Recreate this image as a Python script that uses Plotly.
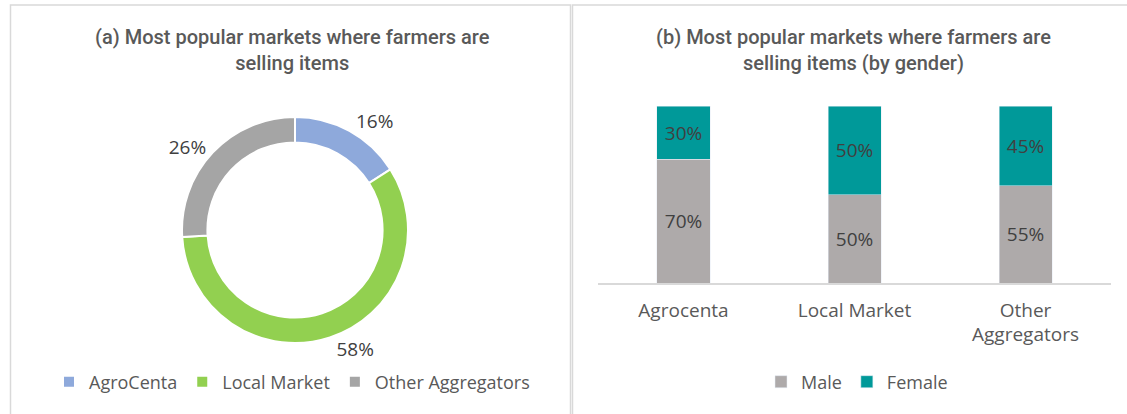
import plotly.graph_objects as go

# Panel (a) data
market_labels = ["AgroCenta", "Local Market", "Other Aggregators"]
market_share = [16, 58, 26]
market_colors = ["#8EA9DB", "#92D050", "#A5A5A5"]

# Panel (b) data
categories = ["Agrocenta", "Local Market", "Other<br>Aggregators"]
male = [70, 50, 55]
female = [30, 50, 45]

W, H = 1127, 414
LABEL_FONT = "Open Sans"
TITLE_FONT = "Roboto"
TXT = "#404040"

fig = go.Figure()

# donut
cx, cy, r = 295, 230, 113
fig.add_trace(go.Pie(
    labels=market_labels, values=market_share,
    marker=dict(colors=market_colors, line=dict(color="white", width=2)),
    hole=0.775, sort=False, direction="clockwise", rotation=0,
    textposition="outside", texttemplate="%{value}%",
    textfont=dict(family=LABEL_FONT, size=19, color=TXT),
    domain=dict(x=[(cx - r) / W, (cx + r) / W],
                y=[(H - cy - r) / H, (H - cy + r) / H]),
    legend="legend", showlegend=True, hoverinfo="label+percent",
))

# stacked bars
fig.add_trace(go.Bar(
    x=categories, y=[v / 100 for v in male], name="Male",
    marker=dict(color="#AEAAAA"), text=[f"{v}%" for v in male],
    textposition="inside", insidetextanchor="middle",
    textfont=dict(family=LABEL_FONT, size=19, color=TXT),
    xaxis="x", yaxis="y", legend="legend2",
))
fig.add_trace(go.Bar(
    x=categories, y=[v / 100 for v in female], name="Female",
    marker=dict(color="#009999"), text=[f"{v}%" for v in female],
    textposition="inside", insidetextanchor="middle",
    textfont=dict(family=LABEL_FONT, size=19, color=TXT),
    xaxis="x", yaxis="y", legend="legend2",
))

shapes = [
    dict(type="rect", xref="paper", yref="paper",
         x0=10.5 / W, x1=570.5 / W, y0=-0.05, y1=(H - 5) / H,
         line=dict(color="#D9D9D9", width=1.5)),
    dict(type="rect", xref="paper", yref="paper",
         x0=572.5 / W, x1=1.05, y0=-0.05, y1=(H - 5) / H,
         line=dict(color="#D9D9D9", width=1.5)),
]

title_font = dict(family=TITLE_FONT, size=20, color="#595959", weight=500)
annotations = [
    dict(text="(a) Most popular markets where farmers are<br>selling items",
         x=292 / W, y=(H - 50) / H, xref="paper", yref="paper",
         showarrow=False, xanchor="center", yanchor="middle",
         font=title_font, align="center"),
    dict(text="(b) Most popular markets where farmers are<br>selling items (by gender)",
         x=853 / W, y=(H - 50) / H, xref="paper", yref="paper",
         showarrow=False, xanchor="center", yanchor="middle",
         font=title_font, align="center"),
]

fig.update_layout(
    width=W, height=H, margin=dict(l=0, r=0, t=0, b=0),
    paper_bgcolor="white", plot_bgcolor="white",
    barmode="stack", bargap=0.69,
    xaxis=dict(domain=[598 / W, 1111 / W], showline=True, linecolor="#D9D9D9",
               linewidth=1.5, ticks="outside", ticklen=9, tickcolor="rgba(0,0,0,0)",
               showgrid=False,
               tickfont=dict(family=LABEL_FONT, size=19, color="#595959")),
    yaxis=dict(domain=[(H - 283) / H, (H - 106) / H], range=[0, 1],
               visible=False, showgrid=False),
    legend=dict(orientation="h", x=292 / W, xanchor="center", y=32 / H, yanchor="middle",
                font=dict(family=LABEL_FONT, size=18, color="#595959"),
                itemwidth=30, traceorder="normal"),
    legend2=dict(orientation="h", x=857 / W, xanchor="center", y=32 / H, yanchor="middle",
                 font=dict(family=LABEL_FONT, size=18, color="#595959"),
                 itemwidth=30, traceorder="normal"),
    shapes=shapes, annotations=annotations,
)

fig.write_html("out.html")
